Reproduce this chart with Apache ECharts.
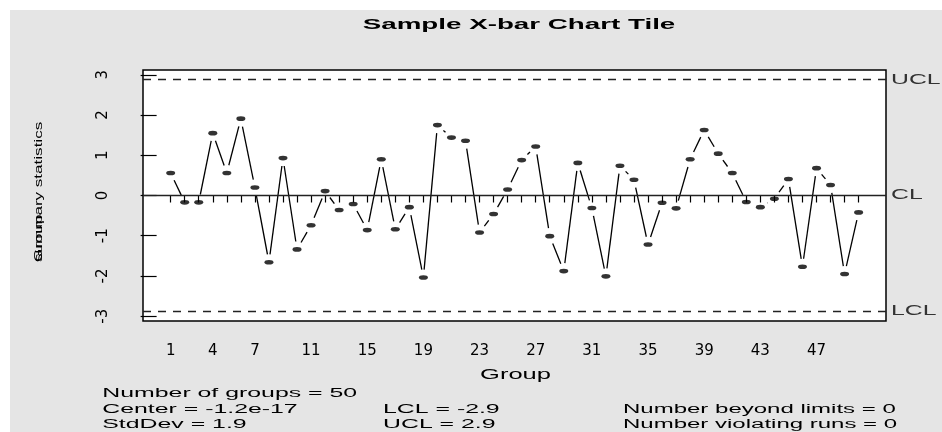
<!DOCTYPE html>
<html><head><meta charset="utf-8">
<script src="https://cdn.jsdelivr.net/npm/echarts@6/dist/echarts.min.js"></script>
<style>html,body{margin:0;padding:0;background:#fff}#c{width:942px;height:432px}</style>
</head><body><div id="c"></div>
<script>
// ---- data ----
const groups = [1,2,3,4,5,6,7,8,9,10,11,12,13,14,15,16,17,18,19,20,21,22,23,24,25,26,27,28,29,30,31,32,33,34,35,36,37,38,39,40,41,42,43,44,45,46,47,48,49,50];
const groupValues = [0.56,-0.17,-0.17,1.55,0.56,1.91,0.20,-1.66,0.93,-1.34,
  -0.74,0.11,-0.36,-0.21,-0.86,0.90,-0.84,-0.29,-2.04,1.75,
  1.44,1.36,-0.92,-0.46,0.15,0.88,1.22,-1.01,-1.88,0.81,
  -0.31,-2.01,0.74,0.39,-1.22,-0.18,-0.32,0.90,1.63,1.04,
  0.56,-0.16,-0.29,-0.08,0.41,-1.77,0.68,0.26,-1.95,-0.42];
const xTickLabels = [1,4,7,11,15,19,23,27,31,35,39,43,47];
const yTickLabels = [-3,-2,-1,0,1,2,3];
const limitNames = ['UCL','CL','LCL'];
const limitValues = [2.88, 0, -2.88];
const titleText = 'Sample X-bar Chart Tile';
const xAxisName = 'Group';
const yAxisNameLines = ['Group', 'summary statistics'];
const statsCol1 = ['Number of groups = 50', 'Center = -1.2e-17', 'StdDev = 1.9'];
const statsCol2 = ['LCL = -2.9', 'UCL = 2.9'];
const statsCol3 = ['Number beyond limits = 0', 'Number violating runs = 0'];

// ---- chart ----
const chart = echarts.init(document.getElementById('c'), null, {renderer:'canvas'});
const segments = [];
for (let i = 0; i < groups.length - 1; i++) {
  segments.push([groups[i], groupValues[i], groups[i+1], groupValues[i+1]]);
}
const GAP = 8;
const dashed = {type:[8,7], color:'#222', width:1.4};
const solid = {type:'solid', color:'#222', width:1.3};

chart.setOption({
  animation: false,
  backgroundColor: '#e5e5e5',
  grid: {left:143, right:56, top:70, bottom:111, show:true, backgroundColor:'#fff', borderColor:'#000', borderWidth:1.5},
  xAxis: {
    type:'value', min:-0.97, max:51.95,
    axisLine:{show:false}, splitLine:{show:false},
    axisTick:{show:true, length:7, lineStyle:{color:'#000', width:1.2}, customValues: groups},
    axisLabel:{customValues: xTickLabels, fontFamily:'DejaVu Sans', fontSize:15, color:'#000', margin:23}
  },
  yAxis: {
    type:'value', min:-3.12, max:3.12,
    axisLine:{show:false}, splitLine:{show:false},
    axisTick:{show:true, length:16, lineStyle:{color:'#000', width:1.2}, customValues: yTickLabels},
    axisLabel:{customValues: yTickLabels, rotate:90, margin:32, fontFamily:'DejaVu Sans', fontSize:15, color:'#000'}
  },
  series: [
    {
      type:'custom', silent:true, z:2,
      data: segments,
      encode:{x:[0,2], y:[1,3]},
      renderItem: function(params, api){
        const p1 = api.coord([api.value(0), api.value(1)]);
        const p2 = api.coord([api.value(2), api.value(3)]);
        const dx = p2[0]-p1[0], dy = p2[1]-p1[1];
        const len = Math.sqrt(dx*dx+dy*dy);
        if (len <= 2*GAP) return {type:'group', children:[]};
        const ux = dx/len, uy = dy/len;
        return {type:'line', shape:{x1:p1[0]+ux*GAP, y1:p1[1]+uy*GAP, x2:p2[0]-ux*GAP, y2:p2[1]-uy*GAP},
          style:{stroke:'#000', lineWidth:1.3}};
      }
    },
    {
      type:'scatter', silent:true, z:3,
      data: groups.map((g,i)=>[g, groupValues[i]]),
      symbol:'circle', symbolSize:[9,4.6],
      itemStyle:{color:'#000'},
      markLine:{
        symbol:'none', silent:true, animation:false, label:{show:false},
        data: limitValues.map((v,i)=>({yAxis:v, lineStyle: limitNames[i]==='CL' ? solid : dashed}))
      }
    }
  ]
});

function txt(text, x, y, opt){
  return Object.assign({
    type:'text', x:x, y:y, silent:true, z:100,
    style:{text:text, font:opt.font, fill:opt.fill||'#000',
      align:opt.align||'left', textAlign:opt.align||'left',
      verticalAlign:'middle', textVerticalAlign:'middle'}
  }, opt.extra||{});
}

const graphics = [
  {type:'rect', shape:{x:0,y:0,width:942,height:10}, style:{fill:'#fff'}, silent:true, z:0},
  {type:'rect', shape:{x:0,y:0,width:10,height:432}, style:{fill:'#fff'}, silent:true, z:0},
  txt(titleText, 519, 25, {font:'bold 15px "Liberation Sans"', align:'center', extra:{scaleX:1.85}}),
  txt(xAxisName, 515.5, 375, {font:'15px "Liberation Sans"', align:'center', extra:{scaleX:1.7}})
];
yAxisNameLines.forEach(function(s){
  graphics.push(txt(s, 38.7, 262, {font:'11px "Liberation Sans"', extra:{rotation:Math.PI/2, scaleX:1.55}}));
});
const lineY = [393.5, 409.5, 425];
statsCol1.forEach(function(s,i){ graphics.push(txt(s, 102.3, lineY[i], {font:'12px "Liberation Sans"', extra:{scaleX:2.07}})); });
statsCol2.forEach(function(s,i){ graphics.push(txt(s, 383, lineY[i+1], {font:'12px "Liberation Sans"', extra:{scaleX:2.07}})); });
statsCol3.forEach(function(s,i){ graphics.push(txt(s, 623, lineY[i+1], {font:'12px "Liberation Sans"', extra:{scaleX:2.0}})); });
limitNames.forEach(function(n,i){
  const py = chart.convertToPixel({yAxisIndex:0}, limitValues[i]);
  graphics.push(txt(n, 891, py, {font:'14px "Liberation Sans"', fill:'#333', extra:{scaleX:1.77}}));
});
chart.setOption({graphic: graphics});
</script></body></html>
